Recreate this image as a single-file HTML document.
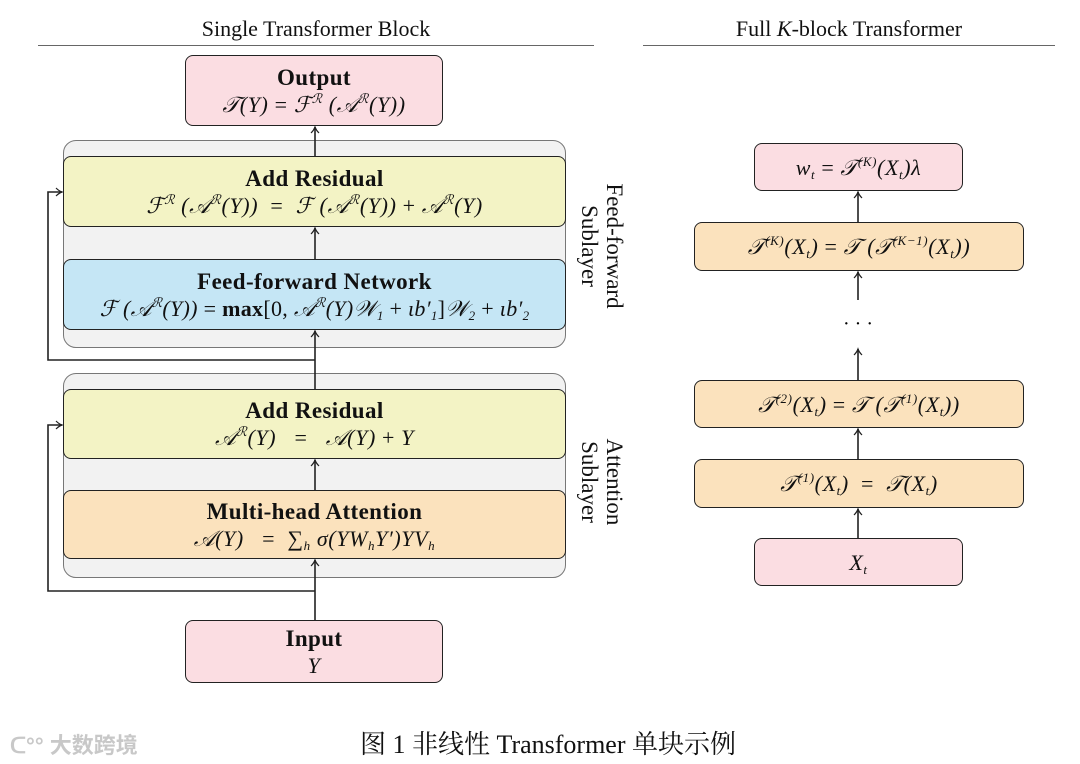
<!DOCTYPE html>
<html><head><meta charset="utf-8"><style>
body{margin:0;width:1080px;height:764px;background:#fff;position:relative;overflow:hidden;font-family:"Liberation Serif","DejaVu Serif","Noto Serif CJK SC",serif;color:#111}
.b{position:absolute;box-sizing:border-box;border:1.6px solid #222;border-radius:8px;text-align:center}
.g{position:absolute;box-sizing:border-box;border:1.2px solid #777;border-radius:13px;background:#f2f2f2}
.t{font-weight:bold;font-size:23px;line-height:27px;letter-spacing:0.4px}
.m{font-size:22px;line-height:27px;font-style:italic;letter-spacing:0.6px}
.m span.n{font-style:normal}
.tt{position:absolute;font-size:22px;text-align:center}
.rot{position:absolute;transform:rotate(90deg);transform-origin:center;font-size:23px;line-height:25px;text-align:center;white-space:nowrap}
sup{font-size:13px;vertical-align:9px;line-height:0}
sub{font-size:13px;vertical-align:-4px;line-height:0}
.c1{display:flex;flex-direction:column;justify-content:center}
</style></head><body>
<div class="tt" style="left:38px;width:556px;top:16px">Single Transformer Block</div>
<div style="position:absolute;left:38px;width:556px;top:45px;border-top:1.3px solid #666"></div>
<div class="tt" style="left:643px;width:412px;top:16px">Full <i>K</i>-block Transformer</div>
<div style="position:absolute;left:643px;width:412px;top:45px;border-top:1.3px solid #666"></div>

<div class="g" style="left:63px;top:140px;width:503px;height:208px"></div>
<div class="g" style="left:63px;top:373px;width:503px;height:205px"></div>

<svg style="position:absolute;left:0;top:0" width="1080" height="764">
<defs><marker id="a" markerUnits="userSpaceOnUse" markerWidth="10" markerHeight="10" refX="7" refY="5" orient="auto"><path d="M1,1 Q4,4 7,5 Q4,6 1,9" fill="none" stroke="#222" stroke-width="1.2"/></marker></defs>
<g stroke="#222" stroke-width="1.6" fill="none">
<line x1="315" y1="620" x2="315" y2="560" marker-end="url(#a)"/>
<line x1="315" y1="490" x2="315" y2="460" marker-end="url(#a)"/>
<line x1="315" y1="389" x2="315" y2="331" marker-end="url(#a)"/>
<line x1="315" y1="259" x2="315" y2="228" marker-end="url(#a)"/>
<line x1="315" y1="156" x2="315" y2="127" marker-end="url(#a)"/>
<polyline points="315,591 48,591 48,425 62,425" marker-end="url(#a)"/>
<polyline points="315,360 48,360 48,192 62,192" marker-end="url(#a)"/>
<line x1="858" y1="538" x2="858" y2="509" marker-end="url(#a)"/>
<line x1="858" y1="459" x2="858" y2="429" marker-end="url(#a)"/>
<line x1="858" y1="380" x2="858" y2="349" marker-end="url(#a)"/>
<line x1="858" y1="300" x2="858" y2="272" marker-end="url(#a)"/>
<line x1="858" y1="222" x2="858" y2="192" marker-end="url(#a)"/>
</g>
<text x="858" y="330" text-anchor="middle" font-size="20" font-family="Liberation Serif">· · ·</text>
</svg>

<div class="b c1" style="left:185px;top:55px;width:258px;height:71px;background:#fbdde2"><div class="t">Output</div><div class="m">𝒯(Y) <span class="n">=</span> ℱ<sup>ℛ</sup> (𝒜<sup>ℛ</sup>(Y))</div></div>
<div class="b c1" style="left:63px;top:156px;width:503px;height:71px;background:#f3f3c5"><div class="t">Add Residual</div><div class="m">ℱ<sup>ℛ</sup> (𝒜<sup>ℛ</sup>(Y)) <span class="n">&nbsp;=&nbsp;</span> ℱ (𝒜<sup>ℛ</sup>(Y)) <span class="n">+</span> 𝒜<sup>ℛ</sup>(Y)</div></div>
<div class="b c1" style="left:63px;top:259px;width:503px;height:71px;background:#c5e6f5"><div class="t">Feed-forward Network</div><div class="m" style="letter-spacing:0.3px">ℱ (𝒜<sup>ℛ</sup>(Y)) <span class="n">= <b>max</b>[0,</span> 𝒜<sup>ℛ</sup>(Y)𝒲<sub class="n">1</sub> <span class="n">+</span> ιb′<sub class="n">1</sub><span class="n">]</span>𝒲<sub class="n">2</sub> <span class="n">+</span> ιb′<sub class="n">2</sub></div></div>
<div class="b c1" style="left:63px;top:389px;width:503px;height:70px;background:#f3f3c5"><div class="t">Add Residual</div><div class="m">𝒜<sup>ℛ</sup>(Y) <span class="n">&nbsp; = &nbsp;</span> 𝒜(Y) <span class="n">+</span> Y</div></div>
<div class="b c1" style="left:63px;top:490px;width:503px;height:69px;background:#fbe2bd"><div class="t">Multi-head Attention</div><div class="m">𝒜(Y) <span class="n">&nbsp; = &nbsp;</span><span class="n">∑</span><sub>h</sub> σ(YW<sub>h</sub>Y′)YV<sub>h</sub></div></div>
<div class="b c1" style="left:185px;top:620px;width:258px;height:63px;background:#fbdde2"><div class="t">Input</div><div class="m">Y</div></div>

<div class="rot" style="left:502px;top:221px;width:200px;height:50px">Feed-forward<br>Sublayer</div>
<div class="rot" style="left:502px;top:457px;width:200px;height:50px">Attention<br>Sublayer</div>

<div class="b c1" style="left:754px;top:143px;width:209px;height:48px;background:#fbdde2"><div class="m">w<sub>t</sub> <span class="n">=</span> 𝒯<sup class="n">(<i>K</i>)</sup>(X<sub>t</sub>)λ</div></div>
<div class="b c1" style="left:694px;top:222px;width:330px;height:49px;background:#fbe2bd"><div class="m">𝒯<sup class="n">(<i>K</i>)</sup>(X<sub>t</sub>) <span class="n">=</span> 𝒯 (𝒯<sup class="n">(<i>K</i>−1)</sup>(X<sub>t</sub>))</div></div>
<div class="b c1" style="left:694px;top:380px;width:330px;height:48px;background:#fbe2bd"><div class="m">𝒯<sup class="n">(2)</sup>(X<sub>t</sub>) <span class="n">=</span> 𝒯 (𝒯<sup class="n">(1)</sup>(X<sub>t</sub>))</div></div>
<div class="b c1" style="left:694px;top:459px;width:330px;height:49px;background:#fbe2bd"><div class="m">𝒯<sup class="n">(1)</sup>(X<sub>t</sub>) <span class="n">&nbsp;=&nbsp;</span> 𝒯(X<sub>t</sub>)</div></div>
<div class="b c1" style="left:754px;top:538px;width:209px;height:48px;background:#fbdde2"><div class="m">X<sub>t</sub></div></div>

<div style="position:absolute;left:10px;top:728px;font-size:22px;color:#c8c8c8;font-family:'Liberation Sans','Noto Sans CJK SC',sans-serif;font-weight:bold">ᑕ°° 大数跨境</div>
<div style="position:absolute;left:0;width:1096px;top:724px;text-align:center;font-size:26px;font-family:'Liberation Serif','Noto Serif CJK SC',serif">图 1 非线性 Transformer 单块示例</div>
</body></html>
